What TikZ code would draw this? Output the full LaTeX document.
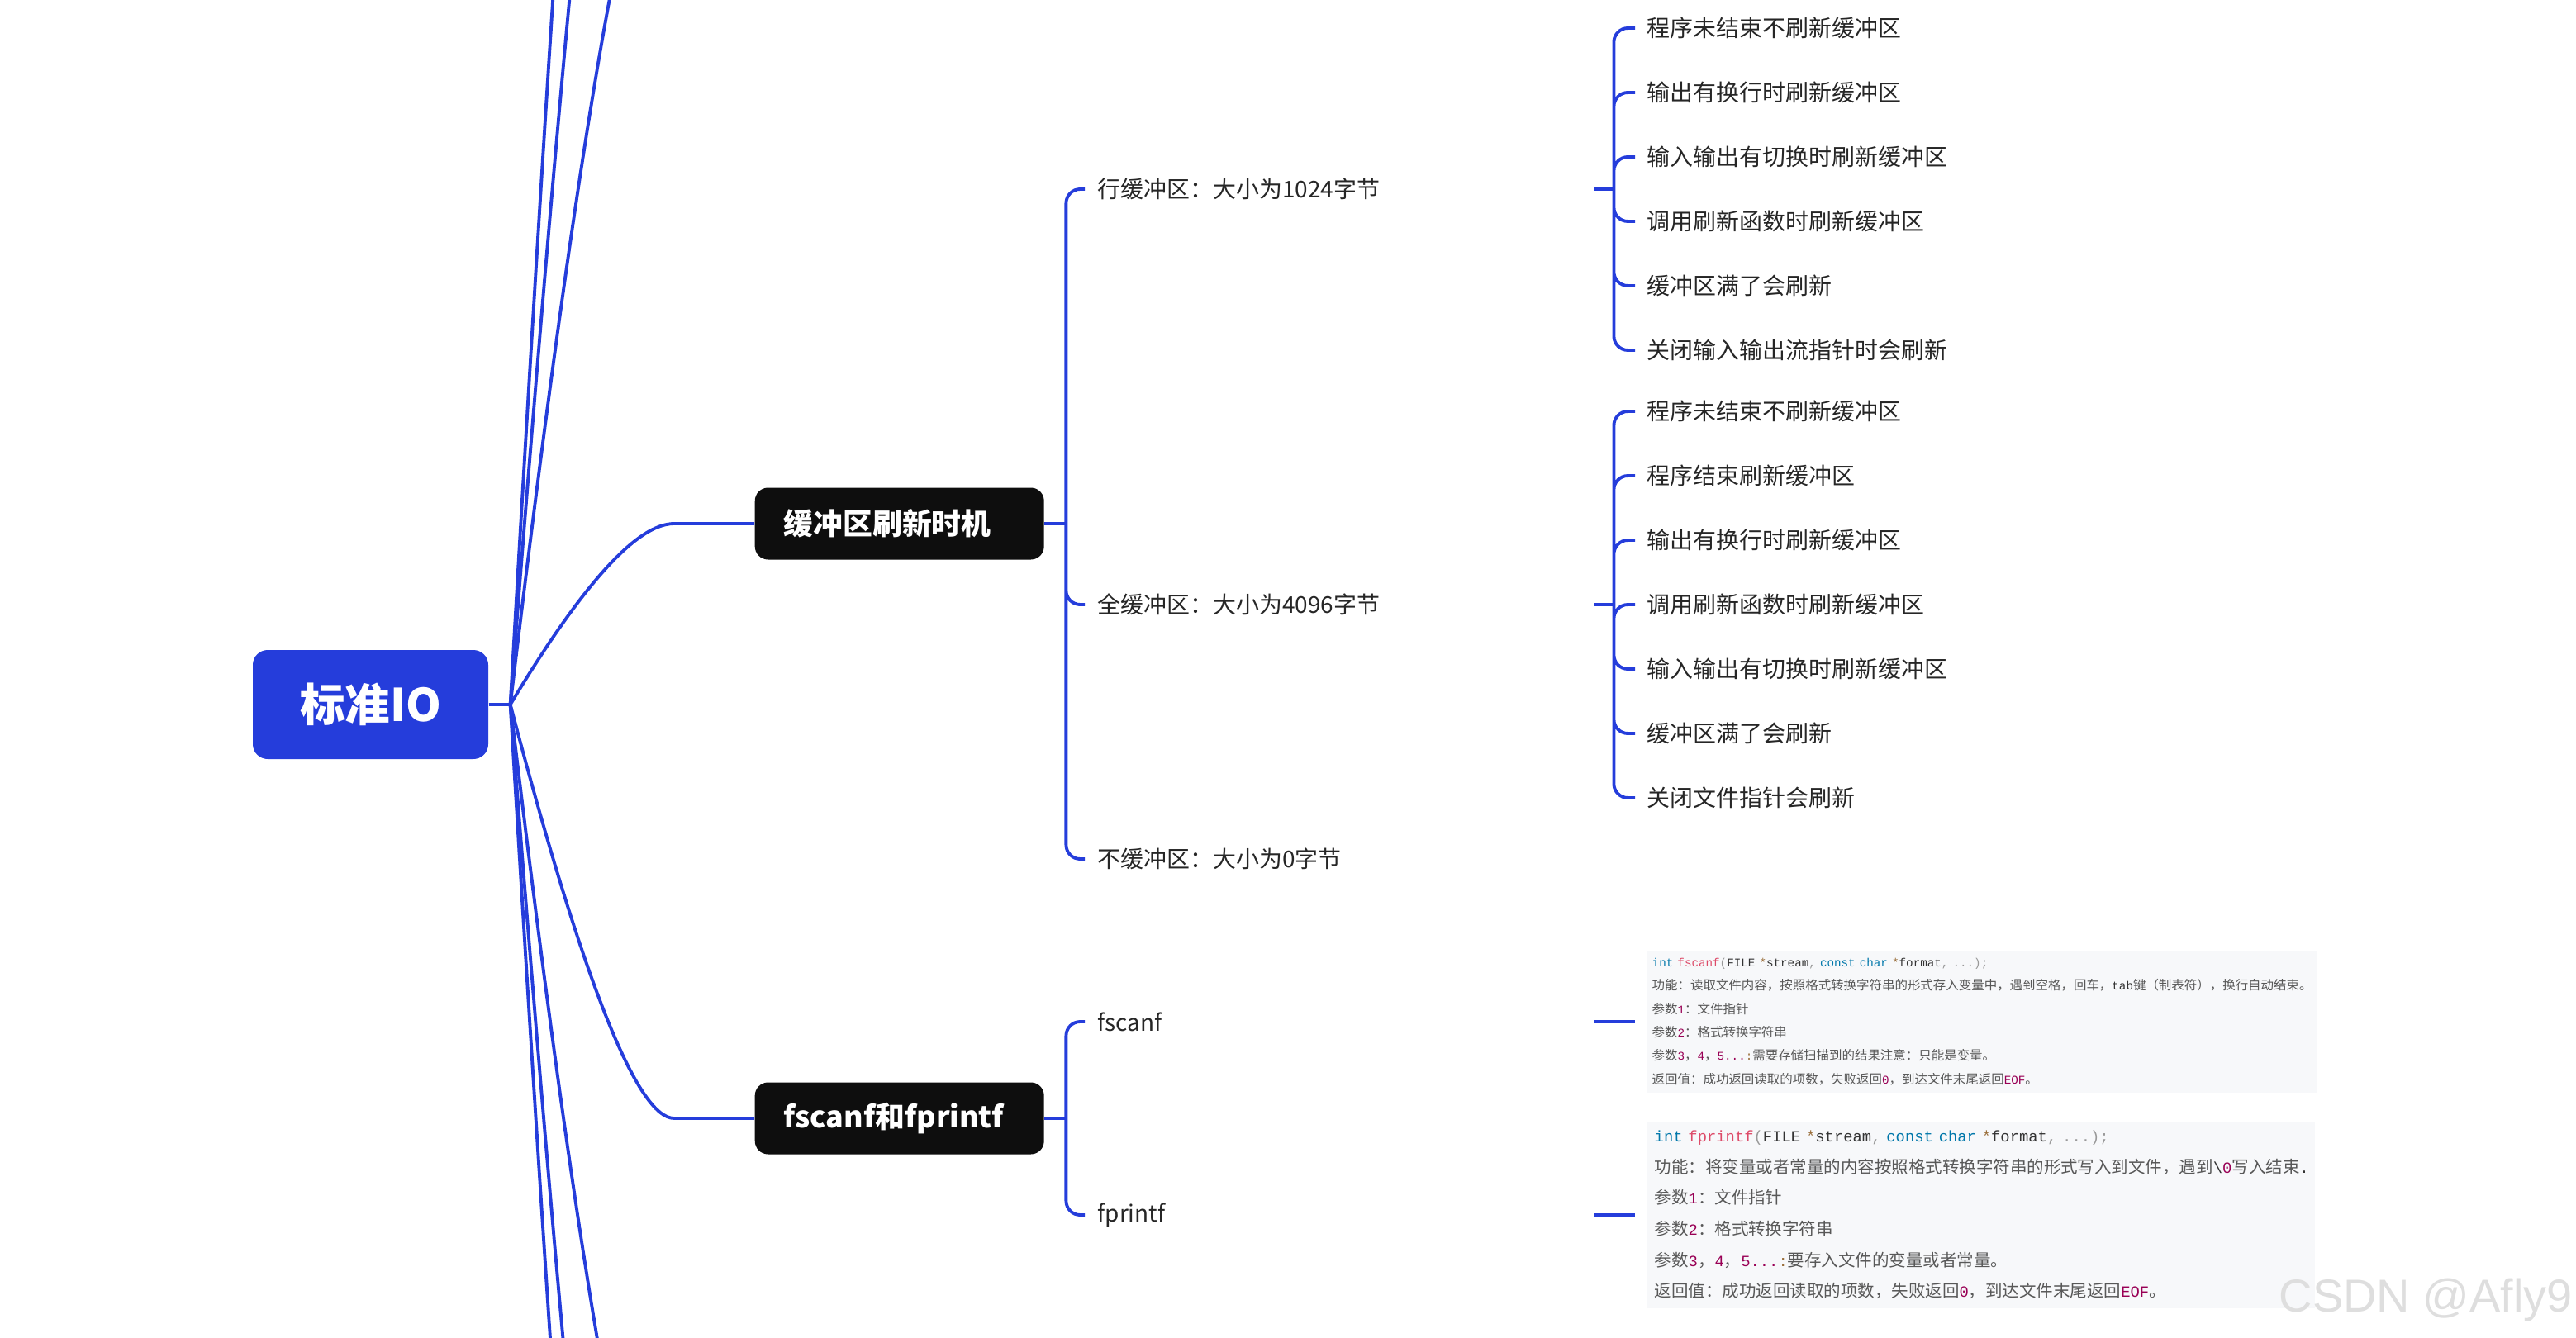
\documentclass[tikz,border=0pt]{standalone}
\usepackage{fontspec}
\setmainfont{Noto Sans CJK SC}
\newfontfamily\codefont[Scale=0.92]{Liberation Mono}
\newfontfamily\markfont{Liberation Sans}
\usetikzlibrary{positioning, calc}
\definecolor{croot}{RGB}{37,61,219}
\definecolor{clink}{RGB}{37,61,219}
\definecolor{chub}{RGB}{14,14,14}
\definecolor{ctxt}{RGB}{38,38,38}
\definecolor{ccodebg}{RGB}{247,248,250}
\definecolor{ctext}{RGB}{88,88,88}
\definecolor{ckey}{RGB}{0,119,170}
\definecolor{cfunc}{RGB}{221,74,104}
\definecolor{cpunct}{RGB}{153,153,153}
\definecolor{coper}{RGB}{154,110,58}
\definecolor{cnum}{RGB}{153,0,85}
\definecolor{cident}{RGB}{51,51,51}
\definecolor{cmark}{RGB}{222,222,222}
\newcommand{\hlnum}[1]{{\codefont\color{cnum}#1}}
\newcommand{\hlop}[1]{{\codefont\color{coper}#1}}
\newcommand{\hlid}[1]{{\codefont\color{cident}#1}}

\begin{document}
\begin{tikzpicture}[font=\fontsize{7.95pt}{9.5pt}\selectfont, node distance=0.78cm,
    link/.style={draw=clink, line width=1.1pt},
    bracket/.style={link, rounded corners=0.17cm},
    rootbox/.style={fill=croot, text=white, rounded corners=0.18cm, minimum width=2.85cm, minimum height=1.32cm, font=\fontsize{15.5pt}{18pt}\selectfont\bfseries},
    hubbox/.style={fill=chub, text=white, rounded corners=0.16cm, text width=2.8cm, inner xsep=0.35cm, minimum height=0.87cm, align=left, anchor=west, font=\fontsize{10.2pt}{12pt}\selectfont\bfseries},
    midtext/.style={text=ctxt, text width=5.85cm, inner xsep=0.15cm, align=left, anchor=west},
    leaftext/.style={text=ctxt, inner xsep=0.14cm, anchor=west},
    codebox/.style={fill=ccodebg, text=ctext, anchor=west, align=left, inner ysep=0pt}]

  \useasboundingbox (0,0) rectangle (31.18,-16.20);
  \clip (0,0) rectangle (31.18,-16.20);

  \node[rootbox] (root) at (4.485,-8.53) {标准IO};
  \node[hubbox] (hubA) at (9.13,-6.34) {缓冲区刷新时机};
  \node[hubbox] (hubB) at (9.13,-13.54) {fscanf和fprintf};

  % 第二层
  \node[midtext] (mline) at (13.13,-2.29) {行缓冲区：大小为1024字节};
  \node[midtext] (mfull) at (13.13,-7.32) {全缓冲区：大小为4096字节};
  \node[midtext] (mnone) at (13.13,-10.40) {不缓冲区：大小为0字节};
  \node[midtext] (mscan) at (13.13,-12.37) {fscanf};
  \node[midtext] (mprint) at (13.13,-14.71) {fprintf};

  % 行缓冲区
  \node[leaftext] (la1) at (19.79,-0.34) {程序未结束不刷新缓冲区};
  \node[leaftext, below=of la1.west, anchor=west] (la2) {输出有换行时刷新缓冲区};
  \node[leaftext, below=of la2.west, anchor=west] (la3) {输入输出有切换时刷新缓冲区};
  \node[leaftext, below=of la3.west, anchor=west] (la4) {调用刷新函数时刷新缓冲区};
  \node[leaftext, below=of la4.west, anchor=west] (la5) {缓冲区满了会刷新};
  \node[leaftext, below=of la5.west, anchor=west] (la6) {关闭输入输出流指针时会刷新};

  % 全缓冲区
  \node[leaftext] (lb1) at (19.79,-4.98) {程序未结束不刷新缓冲区};
  \node[leaftext, below=of lb1.west, anchor=west] (lb2) {程序结束刷新缓冲区};
  \node[leaftext, below=of lb2.west, anchor=west] (lb3) {输出有换行时刷新缓冲区};
  \node[leaftext, below=of lb3.west, anchor=west] (lb4) {调用刷新函数时刷新缓冲区};
  \node[leaftext, below=of lb4.west, anchor=west] (lb5) {输入输出有切换时刷新缓冲区};
  \node[leaftext, below=of lb5.west, anchor=west] (lb6) {缓冲区满了会刷新};
  \node[leaftext, below=of lb6.west, anchor=west] (lb7) {关闭文件指针会刷新};

  % 函数原型
  \node[codebox, minimum height=1.71cm, text width=7.98cm, inner xsep=0.07cm, font=\fontsize{4.4pt}{8.08pt}\selectfont] (codeA) at (19.92,-12.37)
    {{\codefont\color{ckey}int \color{cfunc}fscanf\color{cpunct}(\color{cident}FILE \color{coper}*\color{cident}stream\color{cpunct}, \color{ckey}const char \color{coper}*\color{cident}format\color{cpunct}, ...);}\\
     功能：读取文件内容，按照格式转换字符串的形式存入变量中，遇到空格，回车，\hlid{tab}键（制表符），换行自动结束。\\
     参数\hlnum{1}：文件指针\\
     参数\hlnum{2}：格式转换字符串\\
     参数\hlnum{3}，\hlnum{4}，\hlnum{5...}\hlop{:}需要存储扫描到的结果注意：只能是变量。\\
     返回值：成功返回读取的项数，失败返回\hlnum{0}，到达文件末尾返回\hlnum{EOF}。};
  \node[codebox, minimum height=2.25cm, text width=7.89cm, inner xsep=0.10cm, font=\fontsize{5.83pt}{10.7pt}\selectfont] (codeB) at (19.92,-14.71)
    {{\codefont\color{ckey}int \color{cfunc}fprintf\color{cpunct}(\color{cident}FILE \color{coper}*\color{cident}stream\color{cpunct}, \color{ckey}const char \color{coper}*\color{cident}format\color{cpunct}, ...);}\\
     功能：将变量或者常量的内容按照格式转换字符串的形式写入到文件，遇到\hlid{\textbackslash}\hlnum{0}写入结束{\codefont\color{cident}.}\\
     参数\hlnum{1}：文件指针\\
     参数\hlnum{2}：格式转换字符串\\
     参数\hlnum{3}，\hlnum{4}，\hlnum{5...}\hlop{:}要存入文件的变量或者常量。\\
     返回值：成功返回读取的项数，失败返回\hlnum{0}，到达文件末尾返回\hlnum{EOF}。};

  % 根节点的分支
  \coordinate (fan) at ($(root.east)+(0.26,0)$);
  \coordinate (up1) at (8.16,2.50);
  \coordinate (up2) at (8.16,8.50);
  \coordinate (up3) at (8.16,14.50);
  \coordinate (dn1) at (8.16,-19.53);
  \coordinate (dn2) at (8.16,-25.53);
  \coordinate (dn3) at (8.16,-30.53);
  \coordinate (endA) at ($(hubA.west)+(-0.97,0)$);
  \coordinate (endB) at ($(hubB.west)+(-0.97,0)$);
  \draw[link] (root.east) -- (fan);
  \draw[link] (fan) .. controls ($(fan)!0.667!(endA)+(-0.447,0)$) and ($(endA)+(-0.447,0)$) .. (endA) -- (hubA.west);
  \draw[link] (fan) .. controls ($(fan)!0.667!(endB)+(-0.447,0)$) and ($(endB)+(-0.447,0)$) .. (endB) -- (hubB.west);
  \draw[link] (fan) .. controls ($(fan)!0.667!(up1)+(-0.447,0)$) and ($(up1)+(-0.447,0)$) .. (up1);
  \draw[link] (fan) .. controls ($(fan)!0.667!(up2)+(-0.447,0)$) and ($(up2)+(-0.447,0)$) .. (up2);
  \draw[link] (fan) .. controls ($(fan)!0.667!(up3)+(-0.447,0)$) and ($(up3)+(-0.447,0)$) .. (up3);
  \draw[link] (fan) .. controls ($(fan)!0.667!(dn1)+(-0.447,0)$) and ($(dn1)+(-0.447,0)$) .. (dn1);
  \draw[link] (fan) .. controls ($(fan)!0.667!(dn2)+(-0.447,0)$) and ($(dn2)+(-0.447,0)$) .. (dn2);
  \draw[link] (fan) .. controls ($(fan)!0.667!(dn3)+(-0.447,0)$) and ($(dn3)+(-0.447,0)$) .. (dn3);

  % 第二层括线
  \coordinate (jA) at ($(hubA.east)+(0.26,0)$);
  \coordinate (jB) at ($(hubB.east)+(0.26,0)$);
  \draw[link] (hubA.east) -- (jA);
  \draw[link] (hubB.east) -- (jB);
  \draw[bracket] (jA) |- (mline.west) (jA) |- (mfull.west) (jA) |- (mnone.west);
  \draw[bracket] (jB) |- (mscan.west) (jB) |- (mprint.west);

  % 第三层括线
  \coordinate (jL) at ($(mline.east)+(0.24,0)$);
  \coordinate (jF) at ($(mfull.east)+(0.24,0)$);
  \draw[link] (mline.east) -- (jL);
  \draw[link] (mfull.east) -- (jF);
  \draw[bracket] (jL) |- (la1.west) (jL) |- (la2.west) (jL) |- (la3.west)
                 (jL) |- (la4.west) (jL) |- (la5.west) (jL) |- (la6.west);
  \draw[bracket] (jF) |- (lb1.west) (jF) |- (lb2.west) (jF) |- (lb3.west) (jF) |- (lb4.west)
                 (jF) |- (lb5.west) (jF) |- (lb6.west) (jF) |- (lb7.west);
  \draw[link, shorten >=0.13cm] (mscan.east) -- (codeA.west);
  \draw[link, shorten >=0.13cm] (mprint.east) -- (codeB.west);

  % 水印
  \node[anchor=base west, inner sep=0pt, text=cmark, font=\fontsize{15.9pt}{18pt}\selectfont\markfont] (mark) at (27.58,-15.88) {CSDN @Afly9};
\end{tikzpicture}
\end{document}
